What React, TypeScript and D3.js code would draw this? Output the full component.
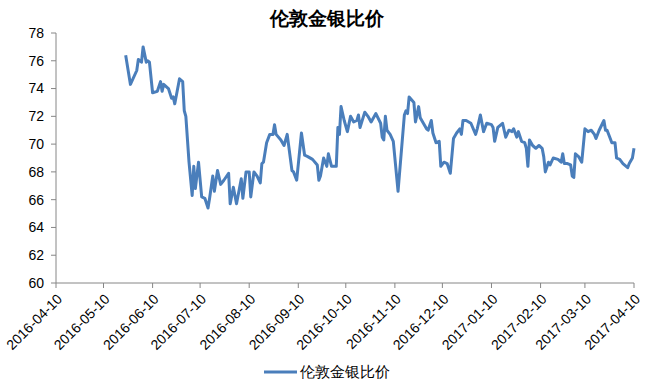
import React from 'react'
import * as d3 from 'd3'

const width = 647
const height = 386

const title = '伦敦金银比价'
const seriesName = '伦敦金银比价'

const tickDates = [
    '2016-04-10', '2016-05-10', '2016-06-10', '2016-07-10', '2016-08-10', '2016-09-10',
    '2016-10-10', '2016-11-10', '2016-12-10', '2017-01-10', '2017-02-10', '2017-03-10', '2017-04-10',
]
const yTicks = [60, 62, 64, 66, 68, 70, 72, 74, 76, 78]

const dates = [
    '2016-05-24', '2016-05-27', '2016-05-31', '2016-06-01', '2016-06-03', '2016-06-04', '2016-06-06', '2016-06-07', '2016-06-08', '2016-06-10',
    '2016-06-13', '2016-06-15', '2016-06-16', '2016-06-17', '2016-06-20', '2016-06-22', '2016-06-23', '2016-06-24', '2016-06-27', '2016-06-29',
    '2016-06-30', '2016-07-01', '2016-07-03', '2016-07-05', '2016-07-06', '2016-07-07', '2016-07-09', '2016-07-11', '2016-07-13', '2016-07-15',
    '2016-07-16', '2016-07-18', '2016-07-19', '2016-07-21', '2016-07-23', '2016-07-25', '2016-07-28', '2016-07-29', '2016-07-31', '2016-08-02',
    '2016-08-05', '2016-08-06', '2016-08-08', '2016-08-10', '2016-08-11', '2016-08-13', '2016-08-15', '2016-08-17', '2016-08-18', '2016-08-19',
    '2016-08-21', '2016-08-23', '2016-08-25', '2016-08-26', '2016-08-27', '2016-08-30', '2016-09-01', '2016-09-03', '2016-09-06', '2016-09-07',
    '2016-09-09', '2016-09-12', '2016-09-14', '2016-09-16', '2016-09-19', '2016-09-22', '2016-09-23', '2016-09-24', '2016-09-26', '2016-09-28',
    '2016-09-29', '2016-10-01', '2016-10-04', '2016-10-05', '2016-10-06', '2016-10-07', '2016-10-09', '2016-10-11', '2016-10-13', '2016-10-15',
    '2016-10-17', '2016-10-18', '2016-10-19', '2016-10-22', '2016-10-24', '2016-10-26', '2016-10-29', '2016-11-01', '2016-11-02', '2016-11-03',
    '2016-11-04', '2016-11-05', '2016-11-07', '2016-11-09', '2016-11-12', '2016-11-16', '2016-11-17', '2016-11-18', '2016-11-19', '2016-11-22',
    '2016-11-23', '2016-11-25', '2016-11-26', '2016-11-28', '2016-11-30', '2016-12-01', '2016-12-03', '2016-12-04', '2016-12-06', '2016-12-08',
    '2016-12-09', '2016-12-11', '2016-12-13', '2016-12-15', '2016-12-17', '2016-12-19', '2016-12-21', '2016-12-22', '2016-12-23', '2016-12-25',
    '2016-12-28', '2016-12-31', '2017-01-01', '2017-01-03', '2017-01-05', '2017-01-07', '2017-01-10', '2017-01-11', '2017-01-12', '2017-01-14',
    '2017-01-17', '2017-01-19', '2017-01-21', '2017-01-23', '2017-01-24', '2017-01-26', '2017-01-27', '2017-01-29', '2017-01-31', '2017-02-01',
    '2017-02-02', '2017-02-03', '2017-02-05', '2017-02-07', '2017-02-09', '2017-02-11', '2017-02-12', '2017-02-13', '2017-02-15', '2017-02-16',
    '2017-02-18', '2017-02-21', '2017-02-23', '2017-02-24', '2017-02-25', '2017-02-27', '2017-03-01', '2017-03-02', '2017-03-03', '2017-03-04',
    '2017-03-06', '2017-03-08', '2017-03-10', '2017-03-12', '2017-03-14', '2017-03-16', '2017-03-17', '2017-03-19', '2017-03-22', '2017-03-23',
    '2017-03-24', '2017-03-26', '2017-03-27', '2017-03-29', '2017-03-30', '2017-04-01', '2017-04-03', '2017-04-06', '2017-04-07', '2017-04-09',
    '2017-04-10',
]

const ratios = [
    76.4, 74.3, 75.3, 76.1, 75.9, 77.0, 75.9, 76.0, 75.9, 73.7,
    73.8, 74.5, 73.8, 74.3, 74.0, 73.3, 73.4, 72.9, 74.7, 74.5,
    72.4, 72.0, 68.7, 66.3, 68.4, 66.8, 68.7, 66.2, 66.1, 65.4,
    66.1, 67.7, 66.6, 68.1, 67.1, 67.4, 67.9, 65.7, 66.9, 65.7,
    67.5, 66.1, 68.0, 68.0, 66.2, 68.0, 67.7, 67.2, 68.6, 68.7,
    70.1, 70.7, 70.7, 71.4, 70.7, 70.3, 69.9, 70.7, 68.1, 68.0,
    67.4, 70.8, 69.2, 69.1, 68.9, 68.5, 67.4, 67.7, 69.0, 68.4,
    69.3, 68.4, 68.4, 71.2, 70.7, 72.7, 71.7, 70.9, 72.0, 71.6,
    71.7, 72.1, 71.2, 72.3, 72.0, 71.6, 72.2, 71.5, 70.5, 70.3,
    72.0, 71.0, 70.7, 70.2, 66.6, 72.1, 72.4, 72.2, 73.4, 73.0,
    71.6, 72.7, 71.9, 71.5, 71.1, 71.0, 71.7, 70.8, 70.1, 70.2,
    68.4, 68.7, 68.6, 67.9, 70.4, 70.8, 71.1, 70.7, 71.7, 71.7,
    71.5, 70.7, 71.1, 72.1, 70.9, 71.5, 71.4, 71.2, 70.2, 71.2,
    71.5, 70.5, 71.0, 70.9, 71.1, 70.5, 70.9, 70.2, 70.1, 69.7,
    68.4, 70.3, 69.9, 69.7, 69.9, 69.7, 69.1, 68.0, 68.7, 68.5,
    69.0, 68.9, 68.7, 69.3, 68.6, 68.6, 68.5, 67.7, 67.6, 69.3,
    69.1, 68.7, 71.1, 70.9, 71.0, 70.7, 70.4, 71.0, 71.7, 71.0,
    71.0, 70.4, 70.1, 70.1, 69.0, 68.9, 68.6, 68.3, 68.6, 69.0,
    69.7,
]

const margin = { left: 56, right: 13, top: 33, bottom: 103 }
const lineColor = '#4a7ebb'
const axisColor = '#868686'
const font = '"Liberation Sans", Arial, sans-serif'

const parse = d3.timeParse('%Y-%m-%d')

export default function App() {
    const ticks = tickDates.map((s) => parse(s) as Date)
    const x = d3
        .scaleTime()
        .domain([ticks[0], ticks[ticks.length - 1]])
        .range([margin.left, width - margin.right])
    const y = d3
        .scaleLinear()
        .domain([60, 78])
        .range([height - margin.bottom, margin.top])

    const points: [Date, number][] = dates.map((d, i) => [parse(d) as Date, ratios[i]])
    const line = d3
        .line<[Date, number]>()
        .x((d) => x(d[0]))
        .y((d) => y(d[1]))

    const y0 = y(60)

    return (
        <svg
            width={width}
            height={height}
            style={{ position: 'absolute', left: 0, top: 0, background: '#fff' }}
            fontFamily={font}
        >
            <text x={width / 2 + 3} y={25} textAnchor="middle" fontSize={19} fontWeight="bold" fill="#000">
                {title}
            </text>

            {/* y axis */}
            <line x1={margin.left} x2={margin.left} y1={y(78)} y2={y0} stroke={axisColor} />
            {yTicks.map((t) => (
                <g key={t}>
                    <line x1={margin.left - 5} x2={margin.left} y1={y(t)} y2={y(t)} stroke={axisColor} />
                    <text x={margin.left - 12} y={y(t)} dy="0.35em" textAnchor="end" fontSize={14} fill="#000">
                        {t}
                    </text>
                </g>
            ))}

            {/* x axis */}
            <line x1={x(ticks[0])} x2={x(ticks[ticks.length - 1])} y1={y0} y2={y0} stroke={axisColor} />
            {ticks.map((t, i) => (
                <g key={i}>
                    <line x1={x(t)} x2={x(t)} y1={y0} y2={y0 + 5} stroke={axisColor} />
                    <text
                        transform={`translate(${x(t) + 7},${y0 + 17}) rotate(-45)`}
                        textAnchor="end"
                        fontSize={14}
                        fill="#000"
                    >
                        {tickDates[i]}
                    </text>
                </g>
            ))}

            <path d={line(points) || ''} fill="none" stroke={lineColor} strokeWidth={3} strokeLinejoin="round" />

            {/* legend */}
            <line x1={264} x2={297} y1={372} y2={372} stroke={lineColor} strokeWidth={3} />
            <text x={300} y={372} dy="0.35em" fontSize={15} fill="#000">
                {seriesName}
            </text>
        </svg>
    )
}
